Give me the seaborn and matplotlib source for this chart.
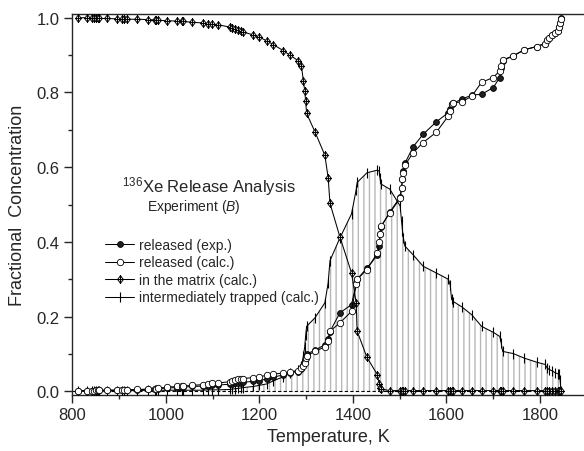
import numpy as np
import pandas as pd
import matplotlib
matplotlib.use("Agg")
import matplotlib.pyplot as plt
import seaborn as sns
from matplotlib.path import Path
from matplotlib.ticker import MultipleLocator, FormatStrFormatter

# ---------------- data ----------------
temperature = [812, 831, 842, 846, 850, 854, 858, 874, 895, 906, 911, 916, 938, 962, 977, 980, 983,
               1002, 1023, 1034, 1037, 1055, 1080, 1091, 1098, 1112, 1137, 1142, 1148, 1155, 1160, 1165,
               1187, 1200, 1216, 1230, 1251, 1265, 1283, 1290, 1294, 1297, 1299, 1301, 1319, 1340, 1347,
               1351, 1372, 1397, 1407, 1409, 1430, 1452, 1456, 1458, 1460, 1479, 1501, 1504, 1506, 1508,
               1511, 1529, 1550, 1578, 1604, 1608, 1611, 1615, 1633, 1654, 1675, 1700, 1714, 1717, 1720,
               1743, 1766, 1793, 1811, 1815, 1820, 1826, 1832, 1838, 1841, 1843, 1845]

in_matrix = [1.000, 1.000, 0.999, 0.999, 0.999, 0.998, 0.998,
             0.998, 0.997, 0.997, 0.996, 0.996,
             0.996, 0.995, 0.994, 0.994, 0.993,
             0.992, 0.991, 0.990, 0.990, 0.988,
             0.986, 0.984, 0.983, 0.981,
             0.975, 0.972, 0.970, 0.967, 0.965, 0.962,
             0.954, 0.948, 0.938, 0.928, 0.912, 0.900,
             0.885, 0.870, 0.832, 0.804, 0.776, 0.744,
             0.694, 0.632, 0.572, 0.503,
             0.414, 0.317, 0.237, 0.161,
             0.091, 0.045, 0.020, 0.010, 0.006,
             0.002, 0.002, 0.002, 0.002, 0.002, 0.002,
             0.002, 0.002, 0.002,
             0.002, 0.002, 0.002, 0.002,
             0.002, 0.002, 0.002, 0.002,
             0.002, 0.002, 0.002,
             0.002, 0.002, 0.002,
             0.002, 0.002, 0.002, 0.002, 0.002, 0.002,
             0.002, 0.002, 0.002]

released_calc = [0.001, 0.002, 0.002, 0.002, 0.003, 0.003, 0.003,
                 0.003, 0.003, 0.004, 0.004, 0.004,
                 0.005, 0.006, 0.007, 0.007, 0.008,
                 0.011, 0.013, 0.013, 0.014, 0.016,
                 0.018, 0.020, 0.021, 0.022,
                 0.026, 0.028, 0.030, 0.032, 0.033, 0.034,
                 0.037, 0.039, 0.043, 0.046, 0.049, 0.052,
                 0.055, 0.062, 0.067, 0.076, 0.090, 0.095,
                 0.107, 0.119, 0.134, 0.161,
                 0.183, 0.214, 0.286, 0.300,
                 0.326, 0.370, 0.400, 0.420, 0.442,
                 0.478, 0.517, 0.545, 0.568, 0.585, 0.605,
                 0.639, 0.666, 0.693,
                 0.737, 0.750, 0.769, 0.772,
                 0.775, 0.790, 0.827, 0.840,
                 0.858, 0.871, 0.887,
                 0.898, 0.914, 0.923,
                 0.931, 0.941, 0.947, 0.953, 0.958, 0.965,
                 0.975, 0.985, 0.997]

released_exp = [0.001, 0.001, 0.002, 0.002, 0.002, 0.002, 0.003,
                0.003, 0.003, 0.003, 0.004, 0.004,
                0.004, 0.005, 0.006, 0.006, 0.007,
                0.009, 0.010, 0.011, 0.011, 0.013,
                0.014, 0.015, 0.016, 0.017,
                0.019, 0.020, 0.021, 0.022, 0.023, 0.024,
                0.027, 0.029, 0.033, 0.038, 0.044, 0.049,
                0.053, 0.060, 0.070, 0.080, 0.095, 0.100,
                0.110, 0.125, 0.139, 0.160,
                0.210, 0.232, 0.290, 0.300,
                0.330, 0.364, 0.390, 0.420, 0.440,
                0.480, 0.520, 0.545, 0.568, 0.590, 0.610,
                0.655, 0.688, 0.721,
                0.746, 0.755, 0.769, 0.772,
                0.782, 0.793, 0.795, 0.813,
                0.840, 0.865, 0.885,
                0.898, 0.914, 0.923,
                0.931, 0.941, 0.947, 0.953, 0.958, 0.965,
                0.975, 0.985, 1.000]

trapped = [0.000, 0.001, 0.001, 0.001, 0.001, 0.001, 0.001,
           0.002, 0.002, 0.002, 0.002, 0.002,
           0.002, 0.003, 0.003, 0.003, 0.003,
           0.003, 0.003, 0.003, 0.003, 0.003,
           0.003, 0.004, 0.004, 0.004,
           0.005, 0.006, 0.007, 0.008, 0.009, 0.010,
           0.013, 0.016, 0.020, 0.028, 0.039, 0.048,
           0.058, 0.068, 0.094, 0.120, 0.150, 0.174,
           0.197, 0.237, 0.290, 0.350,
           0.410, 0.475, 0.540, 0.559,
           0.585, 0.592, 0.590, 0.570, 0.555,
           0.541, 0.496, 0.455, 0.430, 0.410, 0.389,
           0.365, 0.335, 0.317,
           0.300, 0.285, 0.246, 0.240,
           0.226, 0.205, 0.174, 0.158,
           0.147, 0.130, 0.107,
           0.101, 0.089, 0.078,
           0.072, 0.063, 0.058, 0.055, 0.050, 0.047,
           0.047, 0.030, 0.000]

x_ticks = [800, 1000, 1200, 1400, 1600, 1800]
y_ticks = [0.0, 0.2, 0.4, 0.6, 0.8, 1.0]
legend_labels = ["released (exp.)", "released (calc.)", "in the matrix (calc.)",
                 "intermediately trapped (calc.)"]

df = pd.DataFrame({"T": temperature, "exp": released_exp, "calc": released_calc,
                   "matrix": in_matrix, "trapped": trapped})

# ---------------- style ----------------
sns.set_style("ticks")
plt.rcParams["font.family"] = ["Liberation Sans", "DejaVu Sans"]
plt.rcParams["mathtext.fontset"] = "custom"
plt.rcParams["mathtext.rm"] = "Liberation Sans"
plt.rcParams["mathtext.it"] = "Liberation Sans:italic"
plt.rcParams["hatch.linewidth"] = 1.0
plt.rcParams["axes.linewidth"] = 1.0

W, H = 584, 452
fig = plt.figure(figsize=(W / 100, H / 100), dpi=100)
left, right, top, bottom = 72.3, 584, 15, 395.7
ax = fig.add_axes([left / W, 1 - bottom / H, (right - left) / W, (bottom - top) / H])

# diamond-with-cross marker
diamond = Path([(0, 1), (0.75, 0), (0, -1), (-0.75, 0), (0, 1),
                (0, 1), (0, -1), (-0.75, 0), (0.75, 0)],
               [Path.MOVETO, Path.LINETO, Path.LINETO, Path.LINETO, Path.CLOSEPOLY,
                Path.MOVETO, Path.LINETO, Path.MOVETO, Path.LINETO])

lw = 0.75
# hatched area under the intermediately trapped curve
ax.fill_between(df["T"], 0, df["trapped"], facecolor="none", edgecolor="#b8b8b8",
                hatch="|||", linewidth=0, zorder=1)
ax.hlines(0, 800, df["T"].max(), colors="black", linestyles=(0, (3, 2)), linewidth=0.8, zorder=2)

sns.lineplot(data=df, x="T", y="trapped", ax=ax, sort=False, estimator=None, color="black",
             linewidth=lw, marker="|", markersize=6.5, markeredgecolor="black",
             markeredgewidth=0.8, zorder=3)
h_trap = ax.lines[-1]
sns.lineplot(data=df, x="T", y="matrix", ax=ax, sort=False, estimator=None, color="black",
             linewidth=lw, marker=diamond, markersize=5.5, markerfacecolor="#e6e6e6",
             markeredgecolor="black", markeredgewidth=0.7, zorder=4)
h_mat = ax.lines[-1]
sns.lineplot(data=df, x="T", y="exp", ax=ax, sort=False, estimator=None, color="black",
             linewidth=lw, marker="o", markersize=4.2, markerfacecolor="#202020",
             markeredgecolor="black", markeredgewidth=0.6, zorder=5)
h_exp = ax.lines[-1]
sns.lineplot(data=df, x="T", y="calc", ax=ax, sort=False, estimator=None, color="black",
             linewidth=lw, marker="o", markersize=4.6, markerfacecolor="white",
             markeredgecolor="black", markeredgewidth=0.6, zorder=6)
h_calc = ax.lines[-1]

# ---------------- axes ----------------
ax.set_xlim(800, 800 + (right - left) / 0.4677)
ax.set_ylim(-0.009, 1.01)
ax.set_xticks(x_ticks)
ax.set_yticks(y_ticks)
ax.xaxis.set_minor_locator(MultipleLocator(100))
ax.yaxis.set_minor_locator(MultipleLocator(0.1))
ax.yaxis.set_major_formatter(FormatStrFormatter("%.1f"))
ax.tick_params(which="major", direction="out", length=6, width=1, labelsize=12, pad=3)
ax.tick_params(which="minor", direction="out", length=3, width=1)
ax.spines["right"].set_visible(False)
ax.set_xlabel("Temperature, K", fontsize=13, labelpad=4)
ax.set_ylabel("Fractional  Concentration", fontsize=13, labelpad=8)

ax.text(906, 0.534, r"$^{136}$Xe Release Analysis", fontsize=12, ha="left", va="baseline")
ax.text(959, 0.486, r"Experiment ($\mathit{B}$)", fontsize=10, ha="left", va="baseline")

leg = ax.legend([h_exp, h_calc, h_mat, h_trap], legend_labels, loc="upper left",
                bbox_to_anchor=(105 / W, 1 - 239 / H), bbox_transform=fig.transFigure,
                frameon=False, fontsize=10, handlelength=2.1, handletextpad=0.35,
                labelspacing=0.25, borderpad=0, borderaxespad=0, numpoints=1)

fig.savefig("out.png", dpi=100)
